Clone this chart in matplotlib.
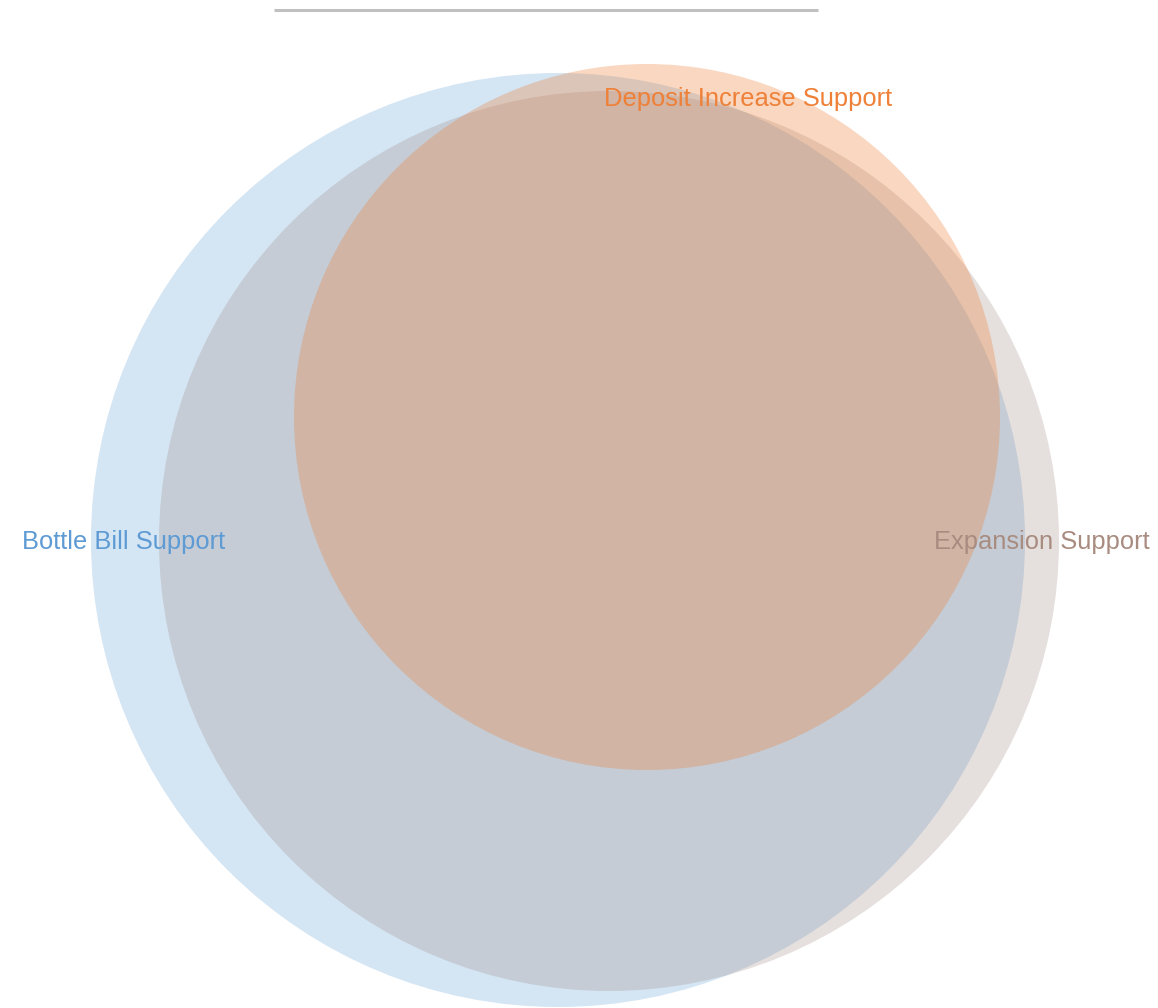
import matplotlib
matplotlib.use("Agg")
import matplotlib.pyplot as plt
from matplotlib.patches import Circle

plt.rcParams['font.family'] = ['Liberation Sans', 'DejaVu Sans']

# Sets of the Venn diagram (canvas pixel units)
set_names = ["Bottle Bill Support", "Expansion Support", "Deposit Increase Support"]
center_x = [558, 609, 647]
center_y = [540, 541, 417]
radius = [467, 450, 353]
fill_colors = ["#5B9BD5", "#A08C84", "#ED7D31"]
fill_alpha = [0.26, 0.27, 0.30]
label_colors = ["#5E9AD3", "#A98C80", "#EE8038"]
label_x = [22, 934, 604]
label_y = [542, 542, 99]

W, H = 1158, 1008
fig = plt.figure(figsize=(W / 100, H / 100), dpi=100)
ax = fig.add_axes([0, 0, 1, 1])
ax.set_xlim(0, W)
ax.set_ylim(H, 0)
ax.set_aspect("equal")
ax.axis("off")

for cx, cy, r, c, a in zip(center_x, center_y, radius, fill_colors, fill_alpha):
    ax.add_patch(Circle((cx, cy), r, facecolor=c, alpha=a, edgecolor="none"))

for name, x, y, c in zip(set_names, label_x, label_y, label_colors):
    ax.text(x, y, name, color=c, fontsize=18.4, ha="left", va="center")

# Title rule
ax.plot([274, 818], [10, 10], color="#C0C0C0", lw=2.2, solid_capstyle="butt")

fig.savefig("out.png", dpi=100)
